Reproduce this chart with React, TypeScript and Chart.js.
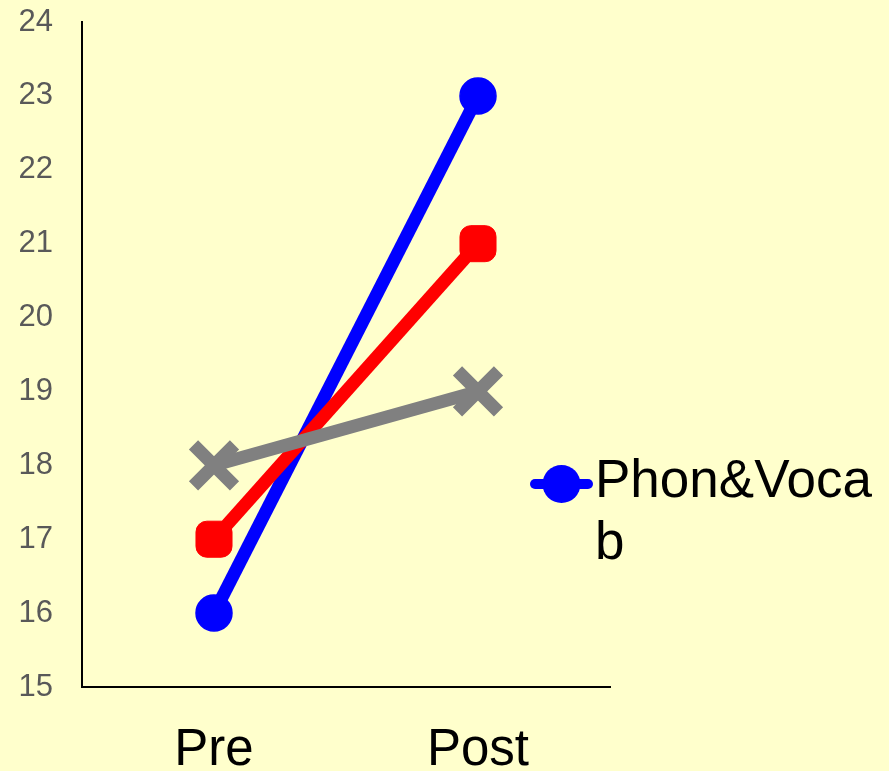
import React, { useEffect, useRef } from "react";
import { Chart, registerables } from "chart.js";

Chart.register(...registerables);

// Test phases and mean scores per group
const phases = ["Pre", "Post"];
const phonVocab = [16, 23];
const phon = [17, 21];
const vocab = [18, 19];

// Value axis range
const yMin = 15;
const yMax = 24;
const yStep = 1;

// Legend entry text, broken onto two lines
const legendLines = ["Phon&Voca", "b"];

const FONT = "'Liberation Sans', Arial, Helvetica, sans-serif";
const BG = "#FFFFCC";

// Draws the single legend entry (line + circle marker + wrapped label)
const sideLegend = {
  id: "sideLegend",
  afterDraw(chart: any) {
    const { ctx, chartArea } = chart;
    const ds = chart.data.datasets.find((d: any) => d.label === "Phon&Vocab");
    if (!ds) return;
    const x0 = chartArea.right - 80;
    const x1 = chartArea.right - 17;
    const cy = chartArea.top + 462;
    const cx = (x0 + x1) / 2;
    ctx.save();
    ctx.strokeStyle = ds.borderColor;
    ctx.lineWidth = 10;
    ctx.lineCap = "round";
    ctx.beginPath();
    ctx.moveTo(x0 + 5, cy);
    ctx.lineTo(x1 - 5, cy);
    ctx.stroke();
    ctx.fillStyle = ds.pointBackgroundColor;
    ctx.beginPath();
    ctx.arc(cx, cy, 19, 0, Math.PI * 2);
    ctx.fill();
    ctx.fillStyle = "#000000";
    ctx.font = `53px ${FONT}`;
    ctx.textAlign = "left";
    ctx.textBaseline = "middle";
    legendLines.forEach((line, i) => {
      ctx.fillText(line, x1 + 2, cy - 2 + i * 62.4);
    });
    ctx.restore();
  },
};

export default function App() {
  const canvasRef = useRef<HTMLCanvasElement | null>(null);

  useEffect(() => {
    if (!canvasRef.current) return;
    const chart = new Chart(canvasRef.current, {
      type: "line",
      data: {
        labels: phases,
        datasets: [
          {
            label: "Phon&Vocab",
            data: phonVocab,
            borderColor: "#0000FF",
            backgroundColor: "#0000FF",
            borderWidth: 13,
            pointStyle: "circle",
            pointRadius: 18,
            pointBorderWidth: 1.5,
            pointBackgroundColor: "#0000FF",
            pointBorderColor: "#0000FF",
            order: 3,
          },
          {
            label: "Phon",
            data: phon,
            borderColor: "#FF0000",
            backgroundColor: "#FF0000",
            borderWidth: 13,
            pointStyle: "rectRounded",
            pointRadius: 21,
            pointBorderWidth: 1,
            pointBackgroundColor: "#FF0000",
            pointBorderColor: "#FF0000",
            order: 2,
          },
          {
            label: "Vocab",
            data: vocab,
            borderColor: "#808080",
            backgroundColor: "#808080",
            borderWidth: 13,
            pointStyle: "crossRot",
            pointRadius: 29,
            pointBorderWidth: 13,
            pointBackgroundColor: "#808080",
            pointBorderColor: "#808080",
            order: 1,
          },
        ],
      },
      options: {
        responsive: false,
        animation: false,
        layout: {
          autoPadding: false,
          padding: { left: 0, top: 22, right: 279, bottom: 0 },
        },
        plugins: {
          legend: { display: false },
          tooltip: { enabled: false },
        },
        scales: {
          x: {
            offset: true,
            grid: { display: false, drawTicks: false },
            border: { display: true, color: "#000000", width: 2 },
            ticks: {
              color: "#000000",
              font: { family: FONT, size: 51 },
              padding: 33,
            },
            afterFit: (s: any) => {
              s.height = 84;
              s.paddingLeft = 0;
              s.paddingRight = 0;
            },
          },
          y: {
            min: yMin,
            max: yMax,
            grid: { display: false, drawTicks: false },
            border: { display: true, color: "#000000", width: 2 },
            ticks: {
              stepSize: yStep,
              color: "#595959",
              font: { family: FONT, size: 31 },
              padding: 29,
            },
            afterFit: (s: any) => {
              s.width = 82;
              s.paddingTop = 0;
              s.paddingBottom = 0;
            },
          },
        },
      },
      plugins: [sideLegend],
    });
    return () => chart.destroy();
  }, []);

  return (
    <div style={{ position: "fixed", inset: 0, background: BG }}>
      <canvas ref={canvasRef} width={889} height={771} style={{ display: "block" }} />
    </div>
  );
}
